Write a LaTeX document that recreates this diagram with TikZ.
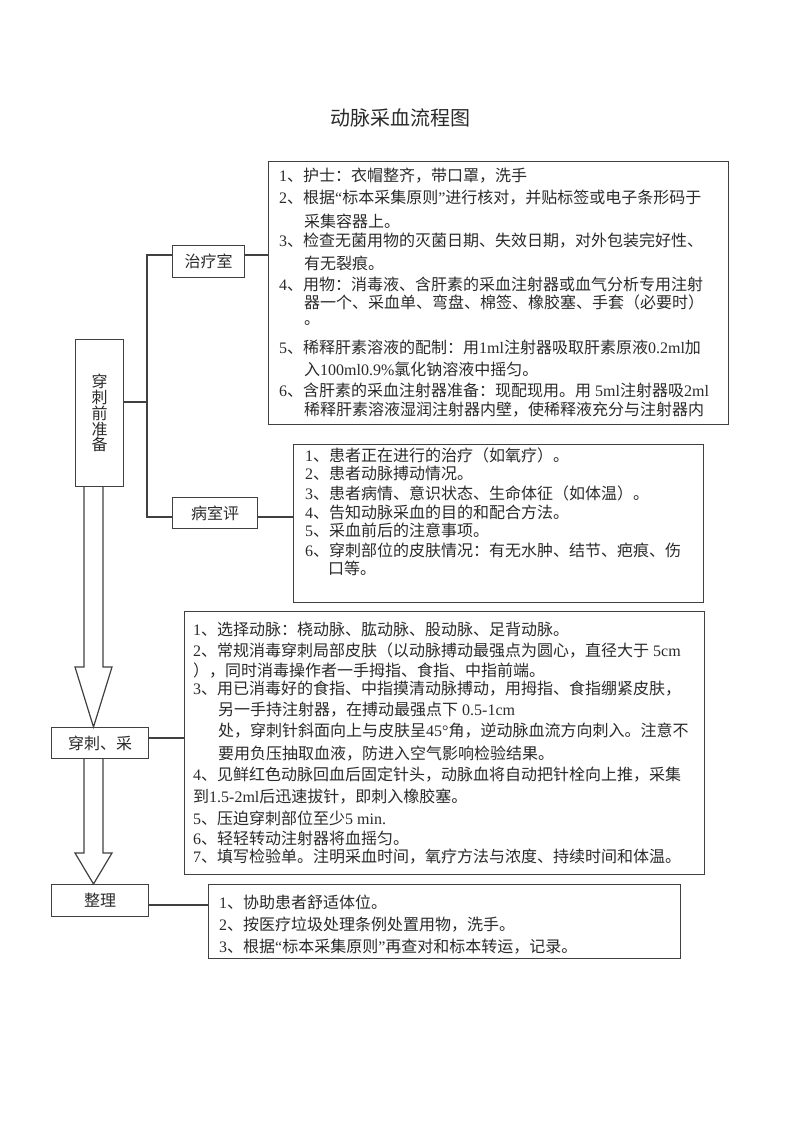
\documentclass[tikz,border=0pt]{standalone}
\usepackage{fontspec}
\setmainfont{Noto Sans CJK SC}
\newfontfamily\tm{Liberation Serif}
\definecolor{lc}{HTML}{404040}
\definecolor{tc}{HTML}{2A2A2A}
\tikzset{
  box/.style={draw=lc, line width=1.2pt, inner sep=0pt, anchor=north west},
  lbl/.style={draw=lc, line width=1.2pt, inner sep=0pt, anchor=north west, text=tc, font=\fontsize{16}{16}\selectfont},
  txt/.style={anchor=west, inner sep=0pt, text=tc, font=\fontsize{16}{19}\selectfont},
  conn/.style={draw=lc, line width=1.2pt},
  barrow/.style={draw=lc, line width=1.2pt, line join=miter}
}
\begin{document}
\begin{tikzpicture}[x=1pt,y=-1pt]
\useasboundingbox (0,0) rectangle (800,1132);
\node[text=tc, font=\fontsize{20}{24}\selectfont] (title) at (400,118) {动脉采血流程图};

% boxes
\node[box, minimum width=460pt, minimum height=263pt] (b1) at (268,161) {};
\node[box, minimum width=410pt, minimum height=158pt] (b2) at (293,444) {};
\node[box, minimum width=520pt, minimum height=263pt] (b3) at (184,611) {};
\node[box, minimum width=472pt, minimum height=74pt] (b4) at (208,884) {};

% labels
\node[lbl, minimum width=48pt, minimum height=147pt, align=center, font=\fontsize{16}{15.8}\selectfont] (prep) at (75,339) {穿\\刺\\前\\准\\备};
\node[lbl, minimum width=72pt, minimum height=32pt] (zls) at (172,245) {治疗室};
\node[lbl, minimum width=85pt, minimum height=31pt] (bs) at (172,497) {病室评};
\node[lbl, minimum width=97pt, minimum height=31pt] (cc) at (51,727) {穿刺、采};
\node[lbl, minimum width=97pt, minimum height=32pt] (zl) at (51,884) {整理};

% connectors
\coordinate (ja) at (147,402);
\coordinate (jt) at (147,255);
\coordinate (jb) at (147,517);
\coordinate (jc) at (160,738);
\coordinate (jd) at (160,905);
\draw[conn] (prep.east |- ja) -- (ja);
\draw[conn] (zls.west |- jt) -- (jt) -- (jb) -- (bs.west |- jb);
\draw[conn] (zls.east |- jt) -- (b1.west |- jt);
\draw[conn] (bs.east |- jb) -- (b2.west |- jb);
\draw[conn] (cc.east |- jc) -- (b3.west |- jc);
\draw[conn] (zl.east |- jd) -- (b4.west |- jd);

% block arrows
\draw[barrow] (prep.south -| 84,0) -- (84,667) -- (75,667) -- (cc.north -| 93.5,0) -- (112,667) -- (103,667) -- (prep.south -| 103,0);
\draw[barrow] (cc.south -| 84,0) -- (84,853) -- (75,853) -- (zl.north -| 93.5,0) -- (112,853) -- (103,853) -- (cc.south -| 103,0);

% box 1 text
\node[txt] (a1) at (279,176) {{\tm 1}、护士：衣帽整齐，带口罩，洗手};
\node[txt] (a2) at (279,198) {{\tm 2}、根据{\tm “}标本采集原则{\tm ”}进行核对，并贴标签或电子条形码于};
\node[txt] (a3) at (304,221) {采集容器上。};
\node[txt] (a4) at (279,241) {{\tm 3}、检查无菌用物的灭菌日期、失效日期，对外包装完好性、};
\node[txt] (a5) at (304,263) {有无裂痕。};
\node[txt] (a6) at (279,284) {{\tm 4}、用物：消毒液、含肝素的采血注射器或血气分析专用注射};
\node[txt] (a7) at (304,302) {器一个、采血单、弯盘、棉签、橡胶塞、手套（必要时）};
\node[txt] (a8) at (304,323) {。};
\node[txt] (a9) at (279,347) {{\tm 5}、稀释肝素溶液的配制：用{\tm 1ml}注射器吸取肝素原液{\tm 0.2ml}加};
\node[txt] (a10) at (304,369) {入{\tm 100ml0.9\%}氯化钠溶液中摇匀。};
\node[txt] (a11) at (279,390) {{\tm 6}、含肝素的采血注射器准备：现配现用。用{\tm\ 5ml}注射器吸{\tm 2ml}};
\node[txt] (a12) at (304,410) {稀释肝素溶液湿润注射器内壁，使稀释液充分与注射器内};

% box 2 text
\node[txt] (c1) at (305,455) {{\tm 1}、患者正在进行的治疗（如氧疗）。};
\node[txt] (c2) at (305,473) {{\tm 2}、患者动脉搏动情况。};
\node[txt] (c3) at (305,493) {{\tm 3}、患者病情、意识状态、生命体征（如体温）。};
\node[txt] (c4) at (305,512) {{\tm 4}、告知动脉采血的目的和配合方法。};
\node[txt] (c5) at (305,530) {{\tm 5}、采血前后的注意事项。};
\node[txt] (c6) at (305,550) {{\tm 6}、穿刺部位的皮肤情况：有无水肿、结节、疤痕、伤};
\node[txt] (c7) at (328,568) {口等。};

% box 3 text
\node[txt] (d1) at (193,629) {{\tm 1}、选择动脉：桡动脉、肱动脉、股动脉、足背动脉。};
\node[txt] (d2) at (193,650) {{\tm 2}、常规消毒穿刺局部皮肤（以动脉搏动最强点为圆心，直径大于{\tm\ 5cm}};
\node[txt] (d3) at (193,670) {），同时消毒操作者一手拇指、食指、中指前端。};
\node[txt] (d4) at (193,689) {{\tm 3}、用已消毒好的食指、中指摸清动脉搏动，用拇指、食指绷紧皮肤，};
\node[txt] (d5) at (218,710) {另一手持注射器，在搏动最强点下{\tm\ 0.5-1cm}};
\node[txt] (d6) at (218,731) {处，穿刺针斜面向上与皮肤呈{\tm 45°}角，逆动脉血流方向刺入。注意不};
\node[txt] (d7) at (218,754) {要用负压抽取血液，防进入空气影响检验结果。};
\node[txt] (d8) at (193,775) {{\tm 4}、见鲜红色动脉回血后固定针头，动脉血将自动把针栓向上推，采集};
\node[txt] (d9) at (193,797) {到{\tm 1.5-2ml}后迅速拔针，即刺入橡胶塞。};
\node[txt] (d10) at (193,818) {{\tm 5}、压迫穿刺部位至少{\tm 5 min.}};
\node[txt] (d11) at (193,838) {{\tm 6}、轻轻转动注射器将血摇匀。};
\node[txt] (d12) at (193,857) {{\tm 7}、填写检验单。注明采血时间，氧疗方法与浓度、持续时间和体温。};

% box 4 text
\node[txt] (e1) at (219,902) {{\tm 1}、协助患者舒适体位。};
\node[txt] (e2) at (219,925) {{\tm 2}、按医疗垃圾处理条例处置用物，洗手。};
\node[txt] (e3) at (219,947) {{\tm 3}、根据{\tm “}标本采集原则{\tm ”}再查对和标本转运，记录。};
\end{tikzpicture}
\end{document}
